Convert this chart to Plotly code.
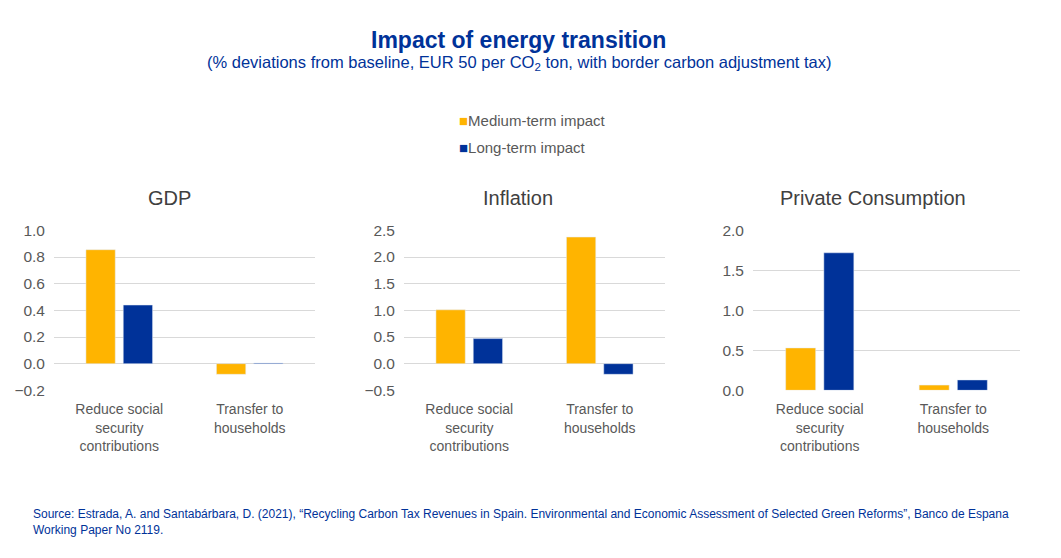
import plotly.graph_objects as go

categories = ["Reduce social<br>security<br>contributions", "Transfer to<br>households"]
panels = ["GDP", "Inflation", "Private Consumption"]
series_names = ["Medium-term impact", "Long-term impact"]
medium_term = {
    "GDP": [0.855, -0.08],
    "Inflation": [1.01, 2.375],
    "Private Consumption": [0.53, 0.065],
}
long_term = {
    "GDP": [0.44, 0.005],
    "Inflation": [0.47, -0.2],
    "Private Consumption": [1.72, 0.13],
}
y_ranges = {"GDP": [-0.2, 1.0], "Inflation": [-0.5, 2.5], "Private Consumption": [0.0, 2.0]}
y_dticks = {"GDP": 0.2, "Inflation": 0.5, "Private Consumption": 0.5}

YELLOW = "#FFB400"
BLUE = "#003299"
GRAY = "#595959"
FONT = "Liberation Sans, Arial, sans-serif"

W, H = 1061, 558


def py(px):
    """pixel row in target picture -> paper y (accounts for capture scaling)"""
    return 1 - ((px - 8.5) / 0.97) / H


x_px = [(54, 315), (404, 665), (753, 1020)]
title_cx = [169, 518, 873]
y_top, y_bot = 230, 390

fig = go.Figure()
for i, p in enumerate(panels):
    ax = "" if i == 0 else str(i + 1)
    fig.add_trace(go.Bar(x=categories, y=medium_term[p], name=series_names[0],
                         marker_color=YELLOW, xaxis="x" + ax, yaxis="y" + ax,
                         showlegend=False))
    fig.add_trace(go.Bar(x=categories, y=long_term[p], name=series_names[1],
                         marker_color=BLUE, xaxis="x" + ax, yaxis="y" + ax,
                         showlegend=False))
    x0, x1 = x_px[i]
    fig.layout["xaxis" + ax] = dict(
        domain=[x0 / W, x1 / W], anchor="y" + ax, showgrid=False, showline=False,
        tickfont=dict(size=14, color=GRAY, family=FONT), ticklabelstandoff=9,
    )
    fig.layout["yaxis" + ax] = dict(
        domain=[py(y_bot), py(y_top)], anchor="x" + ax,
        range=y_ranges[p], dtick=y_dticks[p], tickformat=".1f",
        showgrid=True, gridcolor="#D9D9D9", gridwidth=1, zeroline=False, showline=False,
        tickfont=dict(size=15.5, color=GRAY, family=FONT), ticklabelstandoff=8,
    )
    fig.add_annotation(text=p, x=title_cx[i] / W, y=py(198), xref="paper", yref="paper",
                       showarrow=False, font=dict(size=20, color="#404040", family=FONT),
                       xanchor="center", yanchor="middle")

# legend entries (colored squares + labels)
for name, col, yy in [(series_names[0], YELLOW, 120), (series_names[1], BLUE, 147)]:
    fig.add_annotation(text=f"<span style='color:{col}'>■</span>{name}",
                       x=457 / W, y=py(yy), xref="paper", yref="paper", showarrow=False,
                       font=dict(size=15, color=GRAY, family=FONT), xanchor="left", yanchor="middle")

fig.add_annotation(text="<b>Impact of energy transition</b>", x=518 / W, y=py(40),
                   xref="paper", yref="paper", showarrow=False,
                   font=dict(size=23, color=BLUE, family=FONT), xanchor="center", yanchor="middle")
fig.add_annotation(text="(% deviations from baseline, EUR 50 per CO<sub>2</sub> ton, with border carbon adjustment tax)",
                   x=519 / W, y=py(63), xref="paper", yref="paper", showarrow=False,
                   font=dict(size=16.5, color=BLUE, family=FONT), xanchor="center", yanchor="middle")
fig.add_annotation(text="Source: Estrada, A. and Santabárbara, D. (2021), “Recycling Carbon Tax Revenues in Spain. Environmental and Economic Assessment of Selected Green Reforms”, Banco de Espana<br>Working Paper No 2119.",
                   x=31 / W, y=py(505), xref="paper", yref="paper", showarrow=False, align="left",
                   font=dict(size=12, color=BLUE, family=FONT), xanchor="left", yanchor="top")

fig.update_layout(
    width=W, height=H, margin=dict(l=0, r=0, t=0, b=0),
    paper_bgcolor="white", plot_bgcolor="white",
    barmode="group", bargap=0.428, bargroupgap=0.2145,
    showlegend=False,
    font=dict(family=FONT),
)
fig.write_html("out.html", config={"displayModeBar": False},
               post_script="document.body.style.margin='0';")
